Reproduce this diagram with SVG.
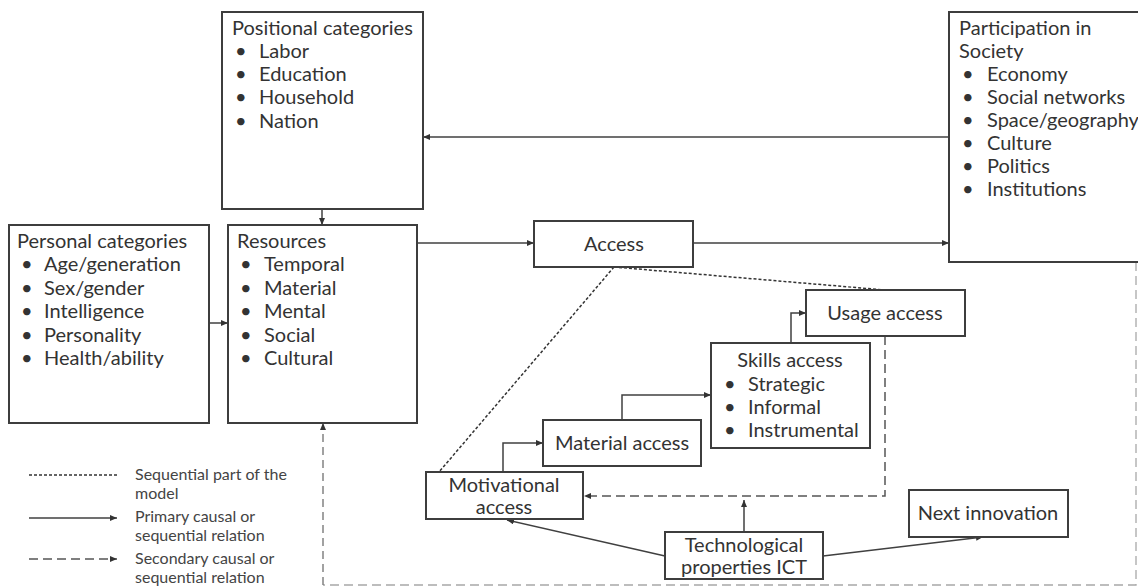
<svg xmlns="http://www.w3.org/2000/svg" width="1138" height="587" viewBox="0 0 1138 587">
  <style>
    .box { fill: #ffffff; stroke: #3d3d3d; stroke-width: 2; }
    .t { font-family: "Lato", "Liberation Sans", sans-serif; font-size: 20px; fill: #333333; }
    .c { text-anchor: middle; }
    .lg { font-family: "Lato", "Liberation Sans", sans-serif; font-size: 16px; fill: #444444; }
    .solid { fill: none; stroke: #404040; stroke-width: 1.5; }
    .dotted { fill: none; stroke: #333333; stroke-width: 1.5; stroke-dasharray: 3 2; }
    .dashed { fill: none; stroke: #555555; stroke-width: 1.5; stroke-dasharray: 9 5; }
    .dashed-light { fill: none; stroke: #a8a8a8; stroke-width: 1.3; stroke-dasharray: 9 5; }
    .dashed-mid { fill: none; stroke: #7a7a7a; stroke-width: 1.4; stroke-dasharray: 8 5; }
  </style>
  <defs>
    <marker id="arrow" viewBox="0 0 7 6" refX="7" refY="3" markerWidth="7" markerHeight="6" markerUnits="userSpaceOnUse" orient="auto">
      <path d="M0,0 L7,3 L0,6 z" fill="#333333"/>
    </marker>
  </defs>

  <rect width="1138" height="587" fill="#ffffff"/>

  <!-- connectors -->
  <g id="connectors">
    <!-- primary relations -->
    <path class="solid" d="M322,209 V225" marker-end="url(#arrow)"/>
    <path class="solid" d="M209,323 H228" marker-end="url(#arrow)"/>
    <path class="solid" d="M417,243 H534" marker-end="url(#arrow)"/>
    <path class="solid" d="M693,243 H949" marker-end="url(#arrow)"/>
    <path class="solid" d="M949,137 H423" marker-end="url(#arrow)"/>
    <path class="solid" d="M503,472 V443 H543" marker-end="url(#arrow)"/>
    <path class="solid" d="M622,420 V395 H711" marker-end="url(#arrow)"/>
    <path class="solid" d="M791,343 V313 H806" marker-end="url(#arrow)"/>
    <path class="solid" d="M744,532 V500" marker-end="url(#arrow)"/>
    <path class="solid" d="M665,556 L507,520" marker-end="url(#arrow)"/>
    <path class="solid" d="M823,556 L983,537" marker-end="url(#arrow)"/>
    <!-- sequential part of the model -->
    <path class="dotted" d="M614,267 L439,472"/>
    <path class="dotted" d="M614,267 L885,290"/>
    <!-- secondary relations -->
    <path class="dashed" d="M885,336 V496 H584" marker-end="url(#arrow)"/>
    <g id="participation-to-resources">
      <path class="dashed-light" d="M1136,262 V585 H323"/>
      <path class="dashed-mid" d="M323,585 V423" marker-end="url(#arrow)"/>
    </g>
  </g>

  <!-- nodes -->
  <g id="positional">
    <rect class="box" x="222" y="12" width="201" height="197"/>
    <text class="t" x="232" y="35">Positional categories</text>
    <text class="t" x="235" y="58">•</text><text class="t" x="259" y="58">Labor</text>
    <text class="t" x="235" y="81">•</text><text class="t" x="259" y="81">Education</text>
    <text class="t" x="235" y="104">•</text><text class="t" x="259" y="104">Household</text>
    <text class="t" x="235" y="128">•</text><text class="t" x="259" y="128">Nation</text>
  </g>

  <g id="participation">
    <rect class="box" x="949" y="12" width="200" height="250"/>
    <text class="t" x="959" y="35">Participation in</text>
    <text class="t" x="959" y="58">Society</text>
    <text class="t" x="962" y="81">•</text><text class="t" x="987" y="81">Economy</text>
    <text class="t" x="962" y="104">•</text><text class="t" x="987" y="104">Social networks</text>
    <text class="t" x="962" y="127">•</text><text class="t" x="987" y="127">Space/geography</text>
    <text class="t" x="962" y="150">•</text><text class="t" x="987" y="150">Culture</text>
    <text class="t" x="962" y="173">•</text><text class="t" x="987" y="173">Politics</text>
    <text class="t" x="962" y="196">•</text><text class="t" x="987" y="196">Institutions</text>
  </g>

  <g id="personal">
    <rect class="box" x="9" y="225" width="200" height="198"/>
    <text class="t" x="17" y="248">Personal categories</text>
    <text class="t" x="21" y="271">•</text><text class="t" x="44" y="271">Age/generation</text>
    <text class="t" x="21" y="295">•</text><text class="t" x="44" y="295">Sex/gender</text>
    <text class="t" x="21" y="318">•</text><text class="t" x="44" y="318">Intelligence</text>
    <text class="t" x="21" y="342">•</text><text class="t" x="44" y="342">Personality</text>
    <text class="t" x="21" y="365">•</text><text class="t" x="44" y="365">Health/ability</text>
  </g>

  <g id="resources">
    <rect class="box" x="228" y="225" width="189" height="198"/>
    <text class="t" x="237" y="248">Resources</text>
    <text class="t" x="240" y="271">•</text><text class="t" x="264" y="271">Temporal</text>
    <text class="t" x="240" y="295">•</text><text class="t" x="264" y="295">Material</text>
    <text class="t" x="240" y="318">•</text><text class="t" x="264" y="318">Mental</text>
    <text class="t" x="240" y="342">•</text><text class="t" x="264" y="342">Social</text>
    <text class="t" x="240" y="365">•</text><text class="t" x="264" y="365">Cultural</text>
  </g>

  <g id="access">
    <rect class="box" x="534" y="221" width="159" height="46"/>
    <text class="t c" x="614" y="251">Access</text>
  </g>

  <g id="usage-access">
    <rect class="box" x="806" y="290" width="159" height="46"/>
    <text class="t c" x="885" y="320">Usage access</text>
  </g>

  <g id="skills-access">
    <rect class="box" x="711" y="343" width="159" height="105"/>
    <text class="t c" x="790" y="367">Skills access</text>
    <text class="t" x="724" y="391">•</text><text class="t" x="748" y="391">Strategic</text>
    <text class="t" x="724" y="414">•</text><text class="t" x="748" y="414">Informal</text>
    <text class="t" x="724" y="437">•</text><text class="t" x="748" y="437">Instrumental</text>
  </g>

  <g id="material-access">
    <rect class="box" x="543" y="420" width="158" height="46"/>
    <text class="t c" x="622" y="450">Material access</text>
  </g>

  <g id="motivational-access">
    <rect class="box" x="426" y="472" width="157" height="47"/>
    <text class="t c" x="504" y="492">Motivational</text>
    <text class="t c" x="504" y="514">access</text>
  </g>

  <g id="technological-properties">
    <rect class="box" x="665" y="532" width="158" height="47"/>
    <text class="t c" x="744" y="552">Technological</text>
    <text class="t c" x="744" y="574">properties ICT</text>
  </g>

  <g id="next-innovation">
    <rect class="box" x="909" y="490" width="159" height="47"/>
    <text class="t c" x="988" y="520">Next innovation</text>
  </g>

  <!-- legend -->
  <g id="legend">
    <path class="dotted" d="M29,475 H117"/>
    <text class="lg" x="135" y="480">Sequential part of the</text>
    <text class="lg" x="135" y="499">model</text>
    <path class="solid" d="M29,518 H117" marker-end="url(#arrow)"/>
    <text class="lg" x="135" y="522">Primary causal or</text>
    <text class="lg" x="135" y="541">sequential relation</text>
    <path class="dashed" d="M29,559 H117" marker-end="url(#arrow)"/>
    <text class="lg" x="135" y="564">Secondary causal or</text>
    <text class="lg" x="135" y="583">sequential relation</text>
  </g>
</svg>
